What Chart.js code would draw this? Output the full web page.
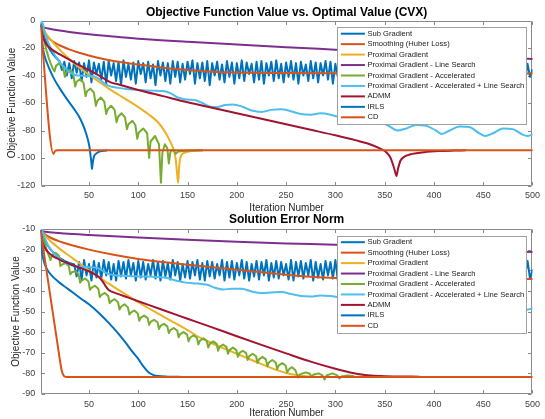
<!DOCTYPE html>
<html><head><meta charset="utf-8">
<script src="https://cdn.jsdelivr.net/npm/chart.js@4.4.1/dist/chart.umd.min.js"></script>
<style>
html,body{margin:0;padding:0;background:#fff;}
body{width:545px;height:419px;overflow:hidden;position:relative;}
canvas{position:absolute;left:0;}
#c1{top:0;}
#c2{top:207px;}
</style></head><body>
<canvas id="c1" width="545" height="214"></canvas>
<canvas id="c2" width="545" height="212"></canvas>
<script>
// ---------------- DATA ----------------
const seriesNames = ['Sub Gradient','Smoothing (Huber Loss)','Proximal Gradient','Proximal Gradient - Line Search','Proximal Gradient - Accelerated','Proximal Gradient - Accelerated + Line Search','ADMM','IRLS','CD'];
const xTicks = [50,100,150,200,250,300,350,400,450,500];
const yTicksTop = [-120,-100,-80,-60,-40,-20,0];
const yTicksBottom = [-90,-80,-70,-60,-50,-40,-30,-20,-10];

// Top chart: Objective Function Value vs. Optimal Value (CVX)  -- [iteration, value]
const subGradTop = [[1,-2],[3,-8],[5,-13],[8,-18],[11,-22],[14,-25],[17,-27.5],[20,-29.5],
[22.5,-36],[25,-30],[27.5,-40],[30,-31],[32.5,-42],[35,-29.5],[37.5,-38],[40,-30.5],[42.5,-44],[45,-31],[47.5,-41],[50,-29],
[52.5,-45],[55,-30.5],[57.5,-39],[60,-31.5],[62.5,-43],[65,-30],[67.5,-46],[70,-29.5],[72.5,-40],[75,-31],[77.5,-44],[80,-30],
[82.5,-47],[85,-29],[87.5,-41],[90,-31.5],[92.5,-43],[95,-30.5],[97.5,-46],[100,-29.5],[102.5,-39],[105,-31],[107.5,-45],[110,-30],
[112.5,-42],[115,-32],[117.5,-47],[120,-29.5],[122.5,-40],[125,-30.5],[127.5,-44],[130,-31],[132.5,-46],[135,-29.5],[137.5,-41],[140,-30],
[142.5,-45],[145,-31.5],[147.5,-43],[150,-30],[152.5,-39],[155,-29],[157.5,-46],[160,-31],[162.5,-42],[165,-30.5],[167.5,-44],[170,-29.5],
[172.5,-47],[175,-31],[177.5,-40],[180,-30],[182.5,-43],[185,-32],[187.5,-45],[190,-29.5],[192.5,-41],[195,-30.5],[197.5,-46],[200,-31],
[202.5,-42],[205,-29],[207.5,-44],[210,-30.5],[212.5,-39],[215,-31.5],[217.5,-45],[220,-30],[222.5,-43],[225,-29.5],[227.5,-46],[230,-31],
[232.5,-40],[235,-30],[237.5,-44],[240,-29],[242.5,-42],[245,-31.5],[247.5,-45],[250,-30.5],[252.5,-41],[255,-29.5],[257.5,-43],[260,-31],
[262.5,-46],[265,-30],[267.5,-40],[270,-32],[272.5,-44],[275,-29.5],[277.5,-42],[280,-30.5],[282.5,-45],[285,-31],[287.5,-40],[290,-29.5],
[292.5,-43],[295,-30],[297.5,-46],[300,-31.5],[302.5,-41],[305,-30],[307.5,-44],[310,-29],[312.5,-42],[315,-31],[317.5,-45],[320,-30.5],
[322.5,-40],[325,-29.5],[327.5,-43],[330,-31],[332.5,-46],[335,-30],[337.5,-41],[340,-32],[342.5,-44],[345,-29.5],[347.5,-42],[350,-30.5],
[352.5,-45],[355,-31],[357.5,-39],[360,-29],[362.5,-43],[365,-30.5],[367.5,-46],[370,-31.5],[372.5,-41],[375,-30],[377.5,-44],[380,-29.5],
[382.5,-42],[385,-31],[387.5,-45],[390,-30],[392.5,-40],[395,-29],[397.5,-43],[400,-31.5],[402.5,-46],[405,-30.5],[407.5,-41],[410,-29.5],
[412.5,-44],[415,-31],[417.5,-42],[420,-30],[422.5,-45],[425,-32],[427.5,-40],[430,-29.5],[432.5,-43],[435,-30.5],[437.5,-46],[440,-31],
[442.5,-41],[445,-29.5],[447.5,-44],[450,-30],[452.5,-42],[455,-31.5],[457.5,-45],[460,-30],[462.5,-40],[465,-29],[467.5,-43],[470,-31],
[472.5,-46],[475,-30.5],[477.5,-41],[480,-29.5],[482.5,-44],[485,-31],[487.5,-42],[490,-30],[492.5,-43],[495,-31.5],[497.5,-41],[500,-36]];
const smoothTop = [[1,-3],[3,-6.5],[5,-9],[10,-13.5],[15,-16],[20,-18],[30,-21],[40,-23.5],[50,-25.5],[60,-27.3],[75,-29.5],[100,-32],[125,-34.3],[150,-36],[175,-37.2],[200,-37.8],[250,-38.2],[300,-38.4],[400,-38.5],[500,-38.5]];
const proxTop = [[1,-2],[5,-8],[10,-13],[20,-21],[30,-28],[40,-34],[50,-39.5],[60,-44.5],[70,-49.5],[80,-54],[90,-58.5],[100,-63],[110,-68],[120,-74],[128,-82],[133,-89],[136,-94],[138,-101],[139.5,-112],[140.5,-118],[141.5,-106],[143,-99],[146,-96.5],[150,-95.5],[158,-94.8],[165,-94.5]];
const proxLsTop = [[1,-4],[5,-5.2],[10,-6],[20,-7.3],[30,-8.3],[50,-10],[75,-11.7],[100,-13.2],[150,-15.5],[200,-17.5],[250,-19.4],[300,-21.2],[350,-23],[400,-24.8],[450,-26.5],[500,-28]];
const accelTop = [[1,-3],[3,-9],[5,-16],[7,-22],[9,-27],[11,-31],[13,-34.5],[15,-37],
[16.5,-33],[20,-31],[23.5,-33.5],[25.5,-41],
[27,-37.5],[31,-36],[34,-38.5],[36,-48],
[37.5,-44.5],[41,-42.5],[44.5,-45.5],[46.5,-55],
[48,-51.5],[51.5,-49.5],[55,-52.5],[57,-62],
[58.5,-58.5],[62,-56],[65.5,-59],[67.5,-68],
[69,-64.5],[72.5,-62],[76,-65],[78,-74],
[79.5,-70],[83,-67.5],[86.5,-70.5],[88.5,-79],
[90,-75.5],[94,-73],[97,-76],[99,-86],
[100.5,-81.5],[105,-78.5],[109,-82],[111,-100],
[112.5,-88],[117,-84],[121,-90],[123,-118],
[124.5,-96],[127,-90],[129.5,-93],[131,-104],
[132.5,-96],[134.5,-94],[136.5,-95],[138,-97],
[140,-95.5],[145,-95],[155,-94.6],[165,-94.4]];
const accelLsTop = [[1,-3],[2,-0.5],[3,-2],[5,-8],[8,-15],[12,-21],[16,-26],[20,-30],[25,-34],[30,-37.5],[35,-39.5],[40,-40],[50,-40.3],[56,-40.8],[60,-42.5],[65,-45.5],[70,-47.5],[80,-49],[90,-50],[100,-50.5],[115,-51],[125,-51.3],[133,-53],[140,-56],[150,-57.5],[158,-58],[165,-60],[172,-62.5],[180,-63],[188,-61.5],[196,-61],[205,-62.5],[215,-65.5],[225,-66.5],[235,-65],[245,-64.5],[255,-66],[265,-68],[275,-68.5],[285,-67.5],[295,-68.5],[305,-70.5],[315,-72.5],[325,-73],[335,-72],[345,-73.5],[355,-77],[363,-80],[372,-78.5],[382,-76],[392,-76.5],[402,-80],[408,-82.5],[416,-80],[426,-77],[436,-77.5],[446,-82],[452,-84],[460,-82],[470,-78.5],[480,-79],[490,-83],[495,-84],[500,-83]];
const admmTop = [[1,-4],[3,-11],[5,-15],[8,-18.5],[12,-21],[20,-24.5],[30,-28.5],[40,-32.5],[50,-36],[60,-40],[68,-43.5],[72,-45],[80,-46.5],[100,-50.5],[125,-55],[150,-59.5],[175,-63.5],[200,-67.5],[225,-71.5],[250,-75.5],[275,-79.5],[300,-83.5],[320,-87],[335,-90],[345,-93],[352,-96],[356,-100],[359,-106],[361,-111],[362,-113],[363.5,-108],[366,-102],[370,-99],[378,-97],[390,-95.8],[405,-95],[420,-94.6],[432,-94.4]];
const irlsTop = [[1,-3],[2,-12],[3,-19],[5,-26],[8,-32],[10,-35.5],[15,-43],[20,-49],[25,-54.5],[30,-59.5],[35,-64.5],[40,-70],[44,-76],[47,-82],[49,-87],[50.5,-92],[51.5,-98],[52.5,-104],[53,-108],[53.7,-104],[55,-99],[57,-97],[60,-95.5],[65,-94.8],[68,-94.5]];
const cdTop = [[1,-4],[14,-97],[15.5,-95],[18,-94.4],[500,-94.4]];

// Bottom chart: Solution Error Norm -- [iteration, value]
const subGradBottom = [[1,-11],[4,-14.5],[8,-18],[12,-20.5],[16,-22.5],[20,-24],[25,-25.5],[30,-26.5],[35,-27.2],
[37.5,-33],[40,-26],[42.5,-34.5],[45,-25],[47.5,-32.5],[50,-27],[52.5,-35],[55,-25.5],[57.5,-33.5],[60,-26.5],[62.5,-34],[65,-25],
[67.5,-32.5],[70,-26],[72.5,-34.5],[75,-27],[77.5,-35],[80,-25.5],[82.5,-33],[85,-26],[87.5,-34],[90,-25],[92.5,-32.5],[95,-26.5],
[97.5,-35],[100,-25.5],[102.5,-33.5],[105,-26],[107.5,-34.5],[110,-27],[112.5,-32.5],[115,-25],[117.5,-34],[120,-26],[122.5,-35],[125,-25.5],
[127.5,-33],[130,-26.5],[132.5,-34.5],[135,-25],[137.5,-32.5],[140,-26],[142.5,-35],[145,-27],[147.5,-33.5],[150,-25.5],[152.5,-34],[155,-26],
[157.5,-32.5],[160,-25],[162.5,-34.5],[165,-26.5],[167.5,-35],[170,-25.5],[172.5,-33],[175,-26],[177.5,-34],[180,-27],[182.5,-32.5],[185,-25],
[187.5,-35],[190,-26],[192.5,-33.5],[195,-25.5],[197.5,-34.5],[200,-26.5],[202.5,-32.5],[205,-25],[207.5,-34],[210,-26],[212.5,-35],[215,-27],
[217.5,-33],[220,-25.5],[222.5,-34.5],[225,-26],[227.5,-32.5],[230,-25],[232.5,-35],[235,-26.5],[237.5,-33.5],[240,-25.5],[242.5,-34],[245,-26],
[247.5,-32.5],[250,-27],[252.5,-34.5],[255,-25],[257.5,-35],[260,-26],[262.5,-33],[265,-25.5],[267.5,-34],[270,-26.5],[272.5,-32.5],[275,-25],
[277.5,-35],[280,-26],[282.5,-33.5],[285,-27],[287.5,-34.5],[290,-25.5],[292.5,-32.5],[295,-26],[297.5,-34],[300,-25],[302.5,-35],[305,-26.5],
[307.5,-33],[310,-25.5],[312.5,-34.5],[315,-26],[317.5,-32.5],[320,-27],[322.5,-35],[325,-25],[327.5,-33.5],[330,-26],[332.5,-34],[335,-25.5],
[337.5,-32.5],[340,-26.5],[342.5,-34.5],[345,-25],[347.5,-35],[350,-26],[352.5,-33],[355,-27],[357.5,-34],[360,-25.5],[362.5,-32.5],[365,-26],
[367.5,-35],[370,-25],[372.5,-33.5],[375,-26.5],[377.5,-34.5],[380,-25.5],[382.5,-32.5],[385,-26],[387.5,-34],[390,-27],[392.5,-35],[395,-25],
[397.5,-33],[400,-26],[402.5,-34.5],[405,-25.5],[407.5,-32.5],[410,-26.5],[412.5,-35],[415,-25],[417.5,-33.5],[420,-26],[422.5,-34],[425,-27],
[427.5,-32.5],[430,-25.5],[432.5,-34.5],[435,-26],[437.5,-35],[440,-25],[442.5,-33],[445,-26.5],[447.5,-34],[450,-25.5],[452.5,-32.5],[455,-26],
[457.5,-35],[460,-27],[462.5,-33.5],[465,-25],[467.5,-34.5],[470,-26],[472.5,-32.5],[475,-25.5],[477.5,-35],[480,-26.5],[482.5,-33],[485,-25],
[487.5,-34],[490,-26],[492.5,-32.5],[495,-25.5],[497.5,-34],[500,-30]];
const smoothBottom = [[1,-11],[5,-12.5],[10,-14],[20,-16],[30,-17.5],[50,-20],[75,-22.5],[100,-24.5],[125,-26],[150,-27.3],[175,-28.5],[200,-29.7],[225,-31],[250,-32.2],[275,-33.2],[300,-33.8],[325,-34.1],[350,-34.2],[500,-34.3]];
const proxBottom = [[1,-11],[5,-13],[10,-15.5],[20,-19.5],[30,-23],[40,-26.5],[50,-30],[60,-33.3],[70,-36.5],[80,-39.5],[90,-42.5],[100,-45.5],[110,-48.3],[120,-51],[130,-53.7],[140,-56.3],[150,-59],[160,-62],[170,-64.3],[180,-66.5],[190,-68.5],[200,-70.5],[210,-72.5],[220,-74.5],[230,-76.5],[240,-78.3],[250,-79.8],[260,-80.8],[270,-81.4],[290,-81.7],[310,-81.7]];
const proxLsBottom = [[1,-11],[10,-11.6],[25,-12.2],[50,-12.9],[100,-14.1],[150,-15.2],[200,-16.2],[250,-17],[300,-17.6],[350,-18.4],[400,-19.3],[450,-20.2],[500,-21.2]];
const accelBottom = [[1,-11],[3,-13.5],[5,-17],[7,-20],[9,-22.5],[11,-25],
[12.5,-22.8],[16,-21.5],[19.5,-23],[21,-28],
[22.5,-27.3],[26,-26.5],[29.5,-28],[31,-32],
[32.5,-31],[36,-30.5],[39.5,-32],[41,-36],
[42.5,-35],[46,-34],[49.5,-35.5],[51,-39.5],
[52.5,-38.5],[56,-37.5],[59.5,-39],[61,-43],
[62.5,-42],[66,-41],[69.5,-42.5],[71,-46],
[72.5,-45],[76,-44],[79.5,-45.5],[81,-49],
[82.5,-47.7],[86,-46.5],[89.5,-48],[91,-51.5],
[92.5,-50.5],[96,-49.5],[99.5,-51],[101,-54.5],
[102.5,-53],[106,-52],[109.5,-53.2],[111,-56.5],
[112.5,-55],[116,-54],[119.5,-55.2],[121,-58.5],
[122.5,-57],[126,-56],[129.5,-57.2],[131,-60.5],
[132.5,-59],[136,-58],[139.5,-59.2],[141,-62.5],
[142.5,-61],[146,-60],[149.5,-61.2],[151,-64.5],
[152.5,-62.7],[156,-61.5],[159.5,-62.7],[161,-66],
[162.5,-64.2],[166,-63],[169.5,-64.2],[171,-67.5],
[172.5,-65.7],[176,-64.5],[179.5,-65.7],[181,-69],
[182.5,-67.2],[186,-66],[189.5,-67.2],[191,-70.5],
[192.5,-68.7],[196,-67.5],[199.5,-68.7],[201,-72],
[202.5,-70.2],[206,-69],[209.5,-70.2],[211,-73.5],
[212.5,-71.7],[216,-70.5],[219.5,-71.7],[221,-75],
[222.5,-73.2],[226,-72],[229.5,-73.2],[231,-76.5],
[232.5,-74.7],[236,-73.5],[239.5,-74.7],[241,-78],
[242.5,-76.2],[246,-75],[249.5,-76.2],[251,-79.5],
[253,-78],[256,-77],[259.5,-78.5],[262,-82],
[264,-80.5],[270,-79.5],[274,-80.2],[276,-81.5],
[278,-80.5],[283,-80],[287,-81],[289,-83],
[291,-81],[297,-80],[302,-81],[304,-82.5],
[306,-81.5],[312,-81],[318,-81.3],[320,-81.8],
[327,-81.6],[335,-81.6]];
const accelLsBottom = [[1,-11],[2,-10],[3,-11.5],[5,-14],[8,-17.5],[12,-20.5],[16,-22.5],[20,-24.3],[25,-26],[30,-27.3],[35,-28],[40,-28.3],[50,-28.5],[58,-28.8],[63,-30],[68,-31.5],[75,-32.3],[85,-32.7],[100,-33],[115,-33.2],[128,-33.6],[138,-35],[148,-36],[160,-36.4],[170,-37],[178,-38.5],[186,-39.3],[195,-39],[205,-39],[215,-40.3],[225,-41],[235,-40.8],[245,-40.6],[255,-41.5],[265,-42.5],[275,-42.7],[285,-42.2],[295,-42.5],[305,-43.2],[315,-43.5],[330,-43.8],[345,-44.5],[360,-45.5],[380,-46],[400,-46.3],[420,-47],[440,-47.8],[460,-48.5],[475,-49.5],[485,-50],[492,-49.5],[500,-48.5]];
const admmBottom = [[1,-11],[2,-14],[3,-16.5],[5,-19],[8,-21],[13,-23],[20,-24.8],[27,-26.3],[35,-27.8],[42,-29],[50,-30.5],[56,-32],[60,-33.3],[64,-35.5],[67,-37.8],[70,-39.6],[73,-40.4],[80,-41.6],[90,-43.3],[100,-45],[125,-49.3],[150,-53.5],[175,-57.7],[200,-62],[225,-66.2],[250,-70.3],[275,-74.3],[300,-77.8],[315,-79.6],[330,-80.8],[345,-81.3],[360,-81.5],[385,-81.6]];
const irlsBottom = [[1,-11],[2,-19],[3,-23],[5,-27],[8,-30],[12,-32.5],[20,-36],[27,-38.5],[35,-41.3],[42,-43.8],[50,-46.5],[60,-50.7],[70,-55.5],[80,-60.8],[87,-65],[94,-69.5],[100,-73],[105,-76.5],[110,-79.3],[115,-80.7],[120,-81.3],[130,-81.6],[145,-81.7]];
const cdBottom = [[1,-11],[20,-72],[22.5,-79],[24.5,-81.2],[27,-81.7],[500,-81.7]];

// ---------------- STYLE ----------------
const lineColors = ['#0072BD','#D95319','#EDB120','#7E2F8E','#77AC30','#4DBEEE','#A2142F','#0072BD','#D95319'];
const smoothCurve = [false,true,true,true,false,true,true,true,true];
const FONT = '"Liberation Sans", Arial, Helvetica, sans-serif';
Chart.defaults.font.family = FONT;

const matlabBox = {
  id: 'matlabBox',
  beforeDatasetsDraw(chart) {
    const {ctx, chartArea: a, scales: {x, y}} = chart;
    const L = 3.5;
    ctx.save();
    ctx.strokeStyle = '#8a8a8a';
    ctx.lineWidth = 1;
    ctx.beginPath();
    const l = Math.round(a.left) + 0.5, r = Math.round(a.right) - 0.5;
    const t = Math.round(a.top) + 0.5, b = Math.round(a.bottom) - 0.5;
    ctx.rect(l, t, r - l, b - t);
    x.ticks.forEach(tk => {
      const px = Math.round(x.getPixelForValue(tk.value)) + 0.5;
      ctx.moveTo(px, b); ctx.lineTo(px, b - L);
      ctx.moveTo(px, t); ctx.lineTo(px, t + L);
    });
    y.ticks.forEach(tk => {
      const py = Math.round(y.getPixelForValue(tk.value)) + 0.5;
      ctx.moveTo(l, py); ctx.lineTo(l + L, py);
      ctx.moveTo(r, py); ctx.lineTo(r - L, py);
    });
    ctx.stroke();
    ctx.restore();
  }
};

const boxLegend = {
  id: 'boxLegend',
  afterDatasetsDraw(chart, args, o) {
    const {ctx, chartArea: a} = chart;
    const ds = chart.data.datasets;
    const right = a.right - o.offsetRight, top = a.top + o.offsetTop;
    const left = right - o.width;
    const h = o.firstRow * 2 + o.rowH * (ds.length - 1);
    ctx.save();
    ctx.fillStyle = '#fff';
    ctx.fillRect(left, top, o.width, h);
    ctx.strokeStyle = '#a0a0a0';
    ctx.lineWidth = 1;
    ctx.strokeRect(Math.round(left) + 0.5, Math.round(top) + 0.5, Math.round(o.width), Math.round(h));
    ctx.font = o.fontSize + 'px ' + FONT;
    ctx.textBaseline = 'middle';
    ctx.textAlign = 'left';
    ds.forEach((d, i) => {
      const cy = top + o.firstRow + i * o.rowH;
      ctx.strokeStyle = d.borderColor;
      ctx.lineWidth = 2;
      ctx.beginPath();
      ctx.moveTo(left + o.lineX0, cy);
      ctx.lineTo(left + o.lineX1, cy);
      ctx.stroke();
      ctx.fillStyle = '#1a1a1a';
      ctx.fillText(d.label, left + o.textX, cy);
    });
    ctx.restore();
  }
};

function buildDatasets(list) {
  return list.map((pts, i) => ({
    label: seriesNames[i],
    data: pts.map(p => ({x: p[0], y: p[1]})),
    borderColor: lineColors[i],
    backgroundColor: lineColors[i],
    borderWidth: 2,
    pointRadius: 0,
    fill: false,
    order: -i,
    tension: 0,
    borderJoinStyle: 'round',
    borderCapStyle: 'round',
    cubicInterpolationMode: smoothCurve[i] ? 'monotone' : 'default'
  }));
}

function buildChart(id, opts) {
  return new Chart(document.getElementById(id), {
    type: 'line',
    data: {datasets: buildDatasets(opts.series)},
    plugins: [matlabBox, boxLegend],
    options: {
      responsive: false,
      animation: false,
      devicePixelRatio: 1,
      layout: {padding: {left: 0, right: 7.7, top: 0, bottom: 0}},
      plugins: {
        legend: {display: false},
        tooltip: {enabled: false},
        title: {
          display: true, text: opts.title, fullSize: false, color: '#000',
          font: {size: 12, weight: 'bold', family: FONT},
          padding: {top: 5.8, bottom: opts.titleBottom}
        },
        boxLegend: {offsetRight: 6.6, offsetTop: 6.5, width: 188.5, rowH: 10.45, firstRow: 6.7,
                    lineX0: 3.5, lineX1: 27.5, textX: 30, fontSize: 7.6}
      },
      scales: {
        x: {
          type: 'linear', min: 1, max: 500,
          afterBuildTicks: s => { s.ticks = xTicks.map(v => ({value: v})); },
          afterFit: s => { s.height = opts.xAxisHeight; },
          grid: {display: false, drawTicks: false, tickLength: 0}, border: {display: false},
          ticks: {color: '#404040', font: {size: 9}, padding: 5, maxRotation: 0, autoSkip: false,
                  callback: v => String(v)},
          title: {display: true, text: 'Iteration Number', color: '#262626', font: {size: 10},
                  padding: {top: 0, bottom: 0}}
        },
        y: {
          type: 'linear', min: opts.yMin, max: opts.yMax,
          afterBuildTicks: s => { s.ticks = opts.yTicks.map(v => ({value: v})); },
          afterFit: s => { s.width = 40.7; },
          grid: {display: false, drawTicks: false, tickLength: 0}, border: {display: false},
          ticks: {color: '#404040', font: {size: 9}, padding: 5.4, autoSkip: false,
                  callback: v => String(v)},
          title: {display: true, text: 'Objective Function Value', color: '#262626', font: {size: 10},
                  padding: {top: opts.yTitlePad, bottom: 0}}
        }
      }
    }
  });
}

buildChart('c1', {
  title: 'Objective Function Value vs. Optimal Value (CVX)',
  series: [subGradTop, smoothTop, proxTop, proxLsTop, accelTop, accelLsTop, admmTop, irlsTop, cdTop],
  yMin: -120, yMax: 0, yTicks: yTicksTop, titleBottom: 0.3, xAxisHeight: 28.5, yTitlePad: 6
});
buildChart('c2', {
  title: 'Solution Error Norm',
  series: [subGradBottom, smoothBottom, proxBottom, proxLsBottom, accelBottom, accelLsBottom, admmBottom, irlsBottom, cdBottom],
  yMin: -90, yMax: -10, yTicks: yTicksBottom, titleBottom: 1.8, xAxisHeight: 25, yTitlePad: 10
});
</script>
</body></html>
